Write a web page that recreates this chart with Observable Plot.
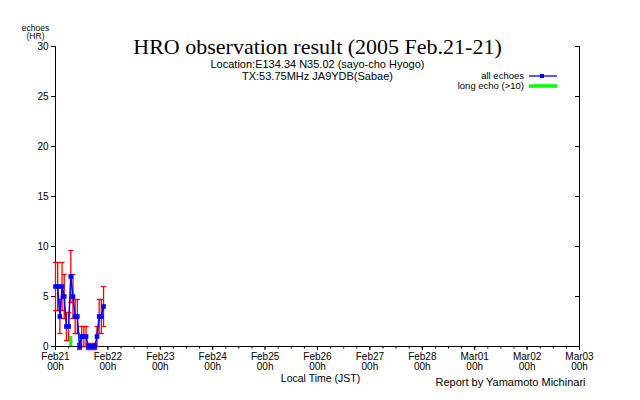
<!DOCTYPE html>
<html><head><meta charset="utf-8">
<script src="https://cdn.jsdelivr.net/npm/d3@7"></script>
<script src="https://cdn.jsdelivr.net/npm/@observablehq/plot@0.6"></script>
<style>
body{margin:0;background:#fff;}
#wrap{position:relative;width:640px;height:400px;font-family:"Liberation Sans",Arial,sans-serif;color:#000;}
.lg{position:absolute;white-space:nowrap;font-size:9.5px;line-height:9.5px;text-align:right;}
.sw{position:absolute;}
</style></head><body>
<div id="wrap"></div>
<script>
// hourly echo counts, Feb 21 2005 (JST), hour of day
const hours   = [0,1,2,3,4,5,6,7,8,9,10,11,12,13,14,15,16,17,18,19,20,21,22];
const echoes  = [6,6,3,6,5,2,2,7,5,3,3,0,1,1,1,0,0,0,0,1,3,3,4];
const errHalf = [2.4,2.4,1.7,2.4,2.2,1.4,1.4,2.6,2.2,1.7,1.7,0.3,1,1,1,0.3,0.3,0.3,0.3,1,1.7,1.7,2];
// long echoes (>10 s)
const longHours  = [7];
const longCounts = [1];
const yTicks = [0,5,10,15,20,25,30];
const startDay = [2005,1,21];
const endDay = [2005,2,3];

const t0 = new Date(Date.UTC(...startDay));
const t1 = new Date(Date.UTC(...endDay));
const data = hours.map((h,i)=>({t:new Date(Date.UTC(...startDay,h)), n:echoes[i], e:errHalf[i]}));
const longData = longHours.map((h,i)=>({t:new Date(Date.UTC(...startDay,h)), n:longCounts[i]}));
const dayTicks = d3.utcDay.range(t0, new Date(+t1+1));
const minorTicks = d3.utcHour.every(6).range(t0, new Date(+t1+1));
const fmt = d3.utcFormat("%b%d");
const capSym = {draw(ctx,size){const w=Math.sqrt(size/Math.PI); ctx.moveTo(-w,0); ctx.lineTo(w,0);}};

const chart = Plot.plot({
  width:640, height:400,
  marginLeft:55, marginRight:61, marginTop:46, marginBottom:54,
  style:{fontFamily:"'Liberation Sans', Arial, sans-serif", fontSize:"10px", background:"white", overflow:"visible", color:"#000"},
  x:{type:"utc", domain:[t0,t1]},
  y:{domain:[0,30]},
  marks:[
    Plot.axisY({ticks:yTicks, tickSize:4, tickPadding:3, label:null, fontSize:10}),
    Plot.axisY({ticks:yTicks, anchor:"left", frameAnchor:"right", tickSize:4, tickFormat:()=>"", label:null}),
    Plot.axisX({ticks:minorTicks, tickSize:2.5, tickFormat:()=>"", label:null}),
    Plot.axisX({ticks:dayTicks, tickSize:4, tickPadding:2, tickFormat:d=>fmt(d)+"\n00h", label:null, fontSize:10, lineHeight:1.05}),
    Plot.ruleX([t0,t1], {stroke:"#000"}),
    Plot.ruleY([0], {stroke:"#000"}),
    Plot.ruleX(data, {x:"t", y1:d=>d.n-d.e, y2:d=>d.n+d.e, stroke:"#ff0000", strokeWidth:1.3}),
    Plot.dot(data, {x:"t", y:d=>d.n+d.e, symbol:capSym, r:2.5, stroke:"#ff0000", strokeWidth:1.3}),
    Plot.dot(data, {x:"t", y:d=>d.n-d.e, symbol:capSym, r:2.5, stroke:"#ff0000", strokeWidth:1.3}),
    Plot.ruleX(longData, {x:"t", y1:0, y2:"n", stroke:"#00ff00", strokeWidth:3}),
    Plot.line(data, {x:"t", y:"n", stroke:"#0000ff", strokeWidth:1.5}),
    Plot.dot(data, {x:"t", y:"n", symbol:"square", r:2.6, fill:"#0000ff"}),
    Plot.text(["HRO observation result (2005 Feb.21-21)"], {frameAnchor:"top", dy:7, lineAnchor:"bottom", fontFamily:"'Liberation Serif', 'Times New Roman', serif", fontSize:22}),
    Plot.text(["Location:E134.34 N35.02 (sayo-cho Hyogo)"], {frameAnchor:"top", dy:21.5, lineAnchor:"bottom", fontSize:11}),
    Plot.text(["TX:53.75MHz JA9YDB(Sabae)"], {frameAnchor:"top", dy:33, lineAnchor:"bottom", fontSize:11}),
    Plot.text(["echoes"], {frameAnchor:"top-left", dx:-20, dy:-16, lineAnchor:"bottom", textAnchor:"middle", fontSize:8.5}),
    Plot.text(["(HR)"], {frameAnchor:"top-left", dx:-20, dy:-7.5, lineAnchor:"bottom", textAnchor:"middle", fontSize:8.5}),
    Plot.text(["Local Time (JST)"], {frameAnchor:"bottom", dx:3, dy:35, lineAnchor:"bottom", fontSize:10.5}),
    Plot.text(["Report by Yamamoto Michinari"], {frameAnchor:"bottom-right", dx:6, dy:39.5, lineAnchor:"bottom", textAnchor:"end", fontSize:11})
  ]
});
const wrap = document.getElementById("wrap");
wrap.appendChild(chart);
wrap.insertAdjacentHTML("beforeend",
  `<div class="lg" style="right:116px;top:71px">all echoes</div>
   <svg class="sw" style="left:528px;top:72px" width="30" height="8"><line x1="1" x2="29" y1="4" y2="4" stroke="#0000ff" stroke-width="1.3"/><rect x="12" y="2" width="4" height="4" fill="#0000ff"/></svg>
   <div class="lg" style="right:116px;top:81px">long echo (&gt;10)</div>
   <svg class="sw" style="left:528px;top:82px" width="30" height="8"><line x1="1" x2="29" y1="4" y2="4" stroke="#00ff00" stroke-width="3.5"/></svg>`);
</script>
</body></html>
